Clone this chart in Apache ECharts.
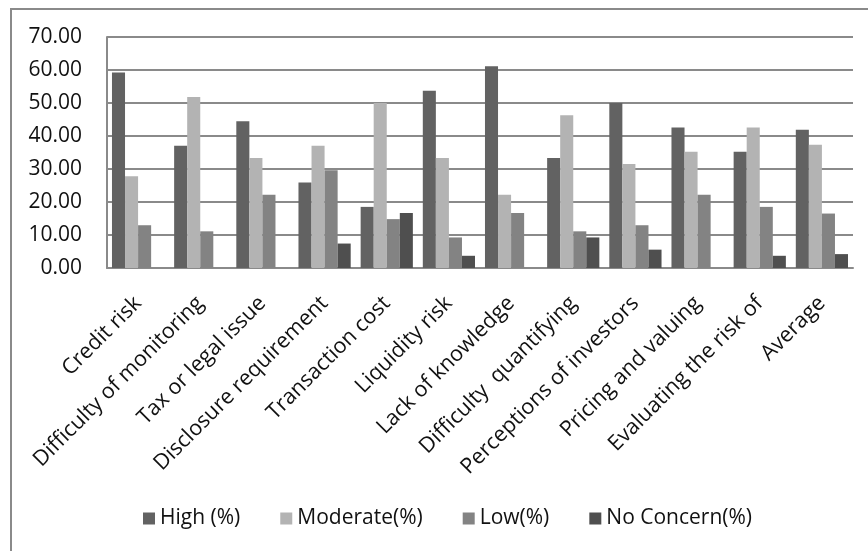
<!DOCTYPE html>
<html>
<head>
<meta charset="utf-8">
<script src="https://cdn.jsdelivr.net/npm/echarts@6/dist/echarts.min.js"></script>
<style>
  html, body { margin: 0; padding: 0; background: #fff; }
  #chart { width: 868px; height: 551px; }
</style>
</head>
<body>
<div id="chart"></div>
<script>
// Concern categories along the x axis
const categories = [
  'Credit risk',
  'Difficulty of monitoring',
  'Tax or legal issue',
  'Disclosure requirement',
  'Transaction cost',
  'Liquidity risk',
  'Lack of knowledge',
  'Difficulty  quantifying',
  'Perceptions of investors',
  'Pricing and valuing',
  'Evaluating the risk of',
  'Average'
];

// Share of respondents per level of concern (%)
const highPct     = [59.26, 37.04, 44.44, 25.93, 18.52, 53.70, 61.11, 33.33, 50.00, 42.59, 35.19, 41.92];
const moderatePct = [27.78, 51.85, 33.33, 37.04, 50.00, 33.33, 22.22, 46.30, 31.48, 35.19, 42.59, 37.37];
const lowPct      = [12.96, 11.11, 22.22, 29.63, 14.81,  9.26, 16.67, 11.11, 12.96, 22.22, 18.52, 16.50];
const noConcern   = [ 0.00,  0.00,  0.00,  7.41, 16.67,  3.70,  0.00,  9.26,  5.56,  0.00,  3.70,  4.21];

const seriesNames = ['High (%)', 'Moderate(%)', 'Low(%)', 'No Concern(%)'];
const seriesColors = ['#626262', '#b3b3b3', '#838383', '#4f4f4f'];

const FONT = 'Open Sans';
const chart = echarts.init(document.getElementById('chart'), null, { renderer: 'canvas' });

const makeBar = (name, data, color) => ({
  name: name,
  type: 'bar',
  data: data,
  barGap: '0%',
  barCategoryGap: '16%',
  itemStyle: { color: color },
  emphasis: { disabled: true }
});

chart.setOption({
  backgroundColor: '#ffffff',
  animation: false,
  textStyle: { fontFamily: FONT },
  graphic: [{
    type: 'rect',
    z: -10,
    shape: { x: 11, y: 9, width: 1000, height: 1000 },
    style: { fill: 'none', stroke: '#8a8a8a', lineWidth: 2 }
  }],
  grid: { left: 107, right: 15, top: 37, height: 231, containLabel: false },
  legend: {
    left: 138,
    top: 503,
    icon: 'rect',
    itemWidth: 12,
    itemHeight: 12,
    itemGap: 40,
    textStyle: { fontFamily: FONT, fontSize: 21, color: '#111' },
    data: seriesNames
  },
  xAxis: {
    type: 'category',
    data: categories,
    axisTick: { show: false },
    axisLine: { lineStyle: { color: '#8a8a8a', width: 2 } },
    axisLabel: {
      interval: 0,
      rotate: 45,
      margin: 32,
      fontFamily: FONT,
      fontSize: 21.5,
      color: '#111'
    }
  },
  yAxis: {
    type: 'value',
    min: 0,
    max: 70,
    interval: 10,
    axisLine: { show: true, lineStyle: { color: '#8a8a8a', width: 2 } },
    axisTick: { show: false },
    splitLine: { lineStyle: { color: '#8a8a8a', width: 2 } },
    axisLabel: {
      margin: 25,
      fontFamily: FONT,
      fontSize: 21,
      color: '#111',
      formatter: v => v.toFixed(2)
    }
  },
  series: [
    makeBar(seriesNames[0], highPct, seriesColors[0]),
    makeBar(seriesNames[1], moderatePct, seriesColors[1]),
    makeBar(seriesNames[2], lowPct, seriesColors[2]),
    makeBar(seriesNames[3], noConcern, seriesColors[3])
  ]
});
</script>
</body>
</html>
